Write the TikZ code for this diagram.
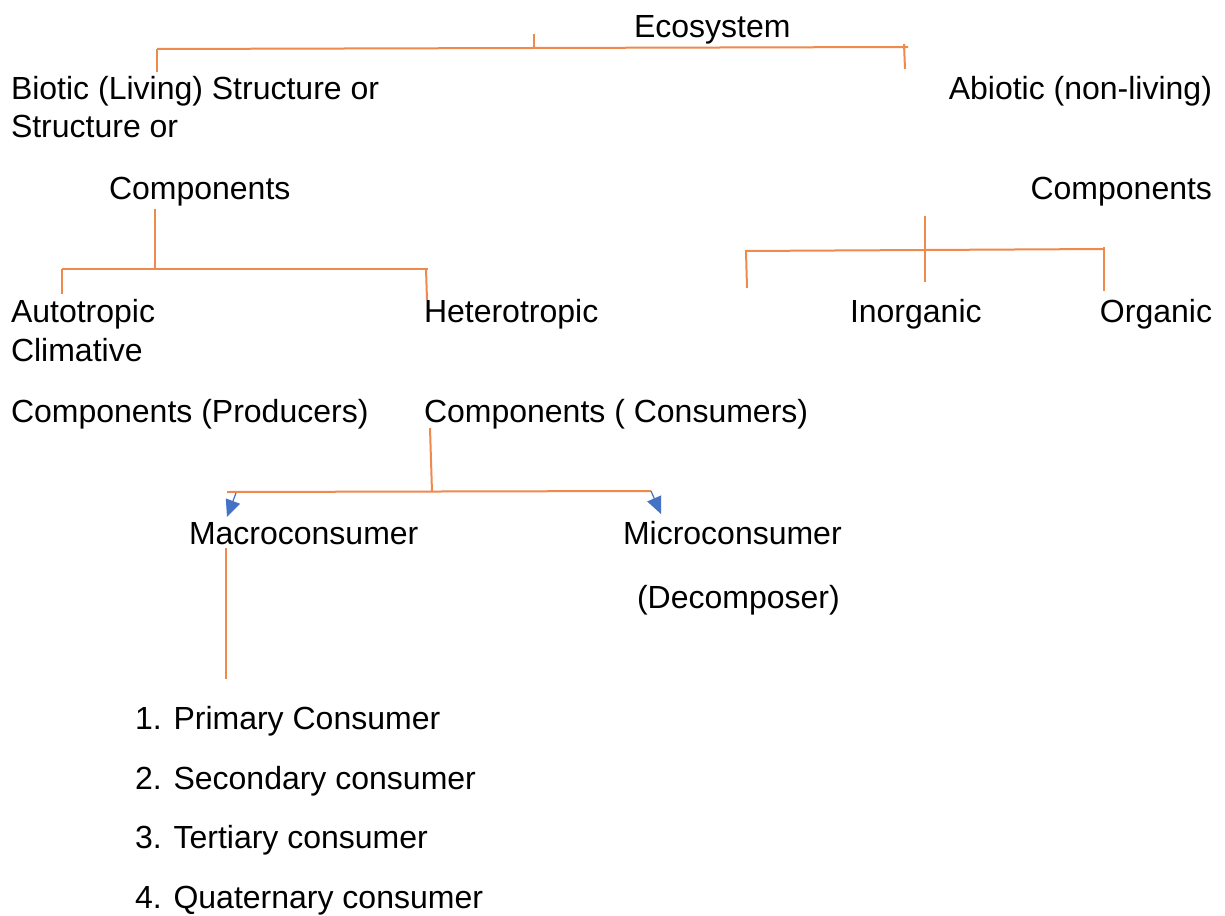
\documentclass[tikz,border=0pt]{standalone}
\usepackage{fontspec}
\setmainfont{Liberation Sans}
\usetikzlibrary{arrows.meta}
\definecolor{conorange}{HTML}{EF8A4C}
\definecolor{arrblue}{HTML}{4472C4}
\begin{document}
\begin{tikzpicture}[x=0.5pt,y=-0.5pt,
  lbl/.style={inner sep=0pt,outer sep=0pt,anchor=base west,font=\fontsize{16}{19}\selectfont},
  rlbl/.style={lbl,anchor=base east},
  conn/.style={draw=conorange,line width=1pt},
  arr/.style={draw=arrblue,line width=0.6pt,-{Triangle[length=8.5pt,width=7.5pt]},fill=arrblue}]
\useasboundingbox[fill=white] (0,0) rectangle (1225,915);
% texts
\node[lbl] (eco) at (634,38) {Ecosystem};
\node[lbl] (bio1) at (11,99) {Biotic (Living) Structure or};
\node[lbl] (bio2) at (11,138) {Structure or};
\node[lbl] (bio3) at (109,199) {Components};
\node[rlbl] (abio1) at (1212,99) {Abiotic (non-living)};
\node[rlbl] (abio2) at (1212,199) {Components};
\node[lbl] (auto1) at (11,322) {Autotropic};
\node[lbl] (auto2) at (11,361) {Climative};
\node[lbl] (auto3) at (11,422) {Components (Producers)};
\node[lbl] (het1) at (424,322) {Heterotropic};
\node[lbl] (het2) at (424,422) {Components ( Consumers)};
\node[lbl] (inorg) at (850,322) {Inorganic};
\node[rlbl] (org) at (1212,322) {Organic};
\node[lbl] (macro) at (189,544) {Macroconsumer};
\node[lbl] (micro1) at (623,544) {Microconsumer};
\node[lbl] (micro2) at (637,608) {(Decomposer)};
\node[lbl] (l1) at (135,729) {1. Primary Consumer};
\node[lbl] (l2) at (135,789) {2. Secondary consumer};
\node[lbl] (l3) at (135,848) {3. Tertiary consumer};
\node[lbl] (l4) at (135,908) {4. Quaternary consumer};
% connector coordinates
\coordinate (tA) at (157,49);  \coordinate (tB) at (908,47);
\coordinate (tT1) at (534,34); \coordinate (tT2) at (534,48);
\coordinate (tL) at (157,72);
\coordinate (tR1) at (904,44); \coordinate (tR2) at (905,69);
\coordinate (b0) at (155,209); \coordinate (b1) at (155,269);
\coordinate (bA) at (62,269);  \coordinate (bB) at (428,269);
\coordinate (bL) at (62,294);  \coordinate (bR1) at (426,269); \coordinate (bR2) at (427,300);
\coordinate (a0) at (925,216); \coordinate (a1) at (925,282);
\coordinate (aA) at (745,251); \coordinate (aB) at (1104,249);
\coordinate (aL1) at (746,251); \coordinate (aL2) at (747,288);
\coordinate (aR1) at (1104,247); \coordinate (aR2) at (1104,291);
\coordinate (h0) at (430,428); \coordinate (h1) at (432,492);
\coordinate (hA) at (227,492); \coordinate (hB) at (651,491);
\coordinate (hAs) at (236,493); \coordinate (hAt) at (227,517);
\coordinate (hBt) at (661,514);
\coordinate (m0) at (226,548); \coordinate (m1) at (226,679);
% connectors
\draw[conn] (tA) -- (tB);
\draw[conn] (tT1) -- (tT2);
\draw[conn] (tA) -- (tL);
\draw[conn] (tR1) -- (tR2);
\draw[conn] (b0) -- (b1);
\draw[conn] (bA) -- (bB);
\draw[conn] (bA) -- (bL);
\draw[conn] (bR1) -- (bR2);
\draw[conn] (a0) -- (a1);
\draw[conn] (aA) -- (aB);
\draw[conn] (aL1) -- (aL2);
\draw[conn] (aR1) -- (aR2);
\draw[conn] (h0) -- (h1);
\draw[conn] (hA) -- (hB);
\draw[arr] (hAs) -- (hAt);
\draw[arr] (hB) -- (hBt);
\draw[conn] (m0) -- (m1);
\end{tikzpicture}
\end{document}
